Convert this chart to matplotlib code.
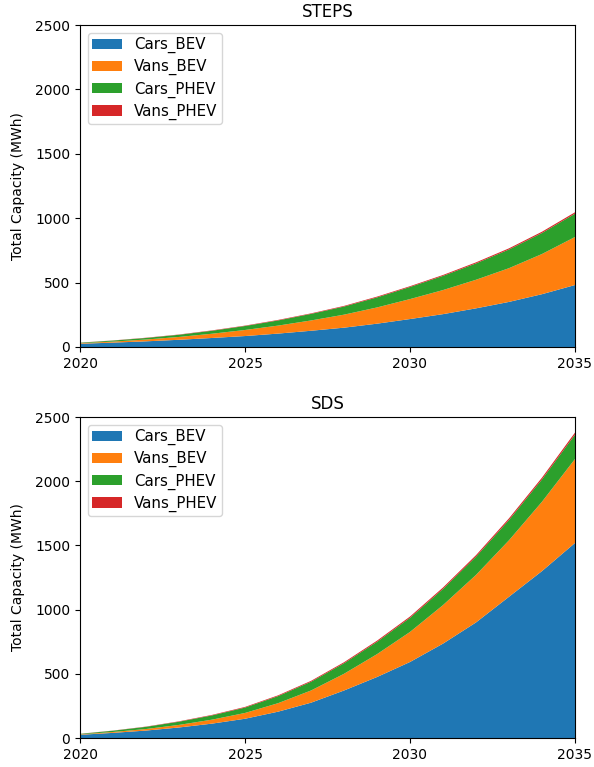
import matplotlib
matplotlib.use("Agg")
import matplotlib.pyplot as plt

years = list(range(2020, 2036))
labels = ["Cars_BEV", "Vans_BEV", "Cars_PHEV", "Vans_PHEV"]

# STEPS scenario (MWh)
steps_cars_bev = [25, 34, 44, 56, 70, 85, 104, 126, 150, 181, 217, 255, 300, 350, 410, 481]
steps_vans_bev = [4, 8, 14, 22, 33, 47, 62, 80, 101, 126, 155, 187, 222, 262, 312, 373]
steps_cars_phev = [4, 8, 12, 17, 23, 31, 40, 51, 63, 78, 94, 110, 127, 145, 163, 181]
steps_vans_phev = [1, 1, 2, 2, 3, 3, 4, 4, 5, 6, 6, 7, 8, 9, 10, 11]

# SDS scenario (MWh)
sds_cars_bev = [25, 40, 58, 82, 112, 150, 205, 275, 370, 475, 592, 735, 900, 1100, 1300, 1519]
sds_vans_bev = [3, 7, 12, 20, 31, 45, 66, 95, 130, 178, 234, 300, 370, 440, 540, 654]
sds_cars_phev = [4, 10, 17, 25, 33, 42, 55, 68, 82, 96, 110, 126, 142, 158, 174, 190]
sds_vans_phev = [1, 1, 2, 3, 4, 5, 6, 7, 8, 9, 10, 11, 12, 13, 14, 16]

scenarios = [
    ("STEPS", [steps_cars_bev, steps_vans_bev, steps_cars_phev, steps_vans_phev]),
    ("SDS", [sds_cars_bev, sds_vans_bev, sds_cars_phev, sds_vans_phev]),
]

fig = plt.figure(figsize=(5.94, 7.67), dpi=100)
ax_top = fig.add_axes([0.1347, 0.5476, 0.8333, 0.4198])
ax_bot = fig.add_axes([0.1347, 0.0378, 0.8333, 0.4185])

for ax, (name, series) in zip([ax_top, ax_bot], scenarios):
    ax.stackplot(years, *series, labels=labels)
    ax.set_title(name)
    ax.set_ylabel("Total Capacity (MWh)", labelpad=7)
    ax.set_xlim(2020, 2035)
    ax.set_ylim(0, 2500)
    ax.set_xticks([2020, 2025, 2030, 2035])
    ax.legend(loc="upper left", fontsize=10.8, labelspacing=0.4, borderpad=0.3)

fig.savefig("out.png", dpi=100)
